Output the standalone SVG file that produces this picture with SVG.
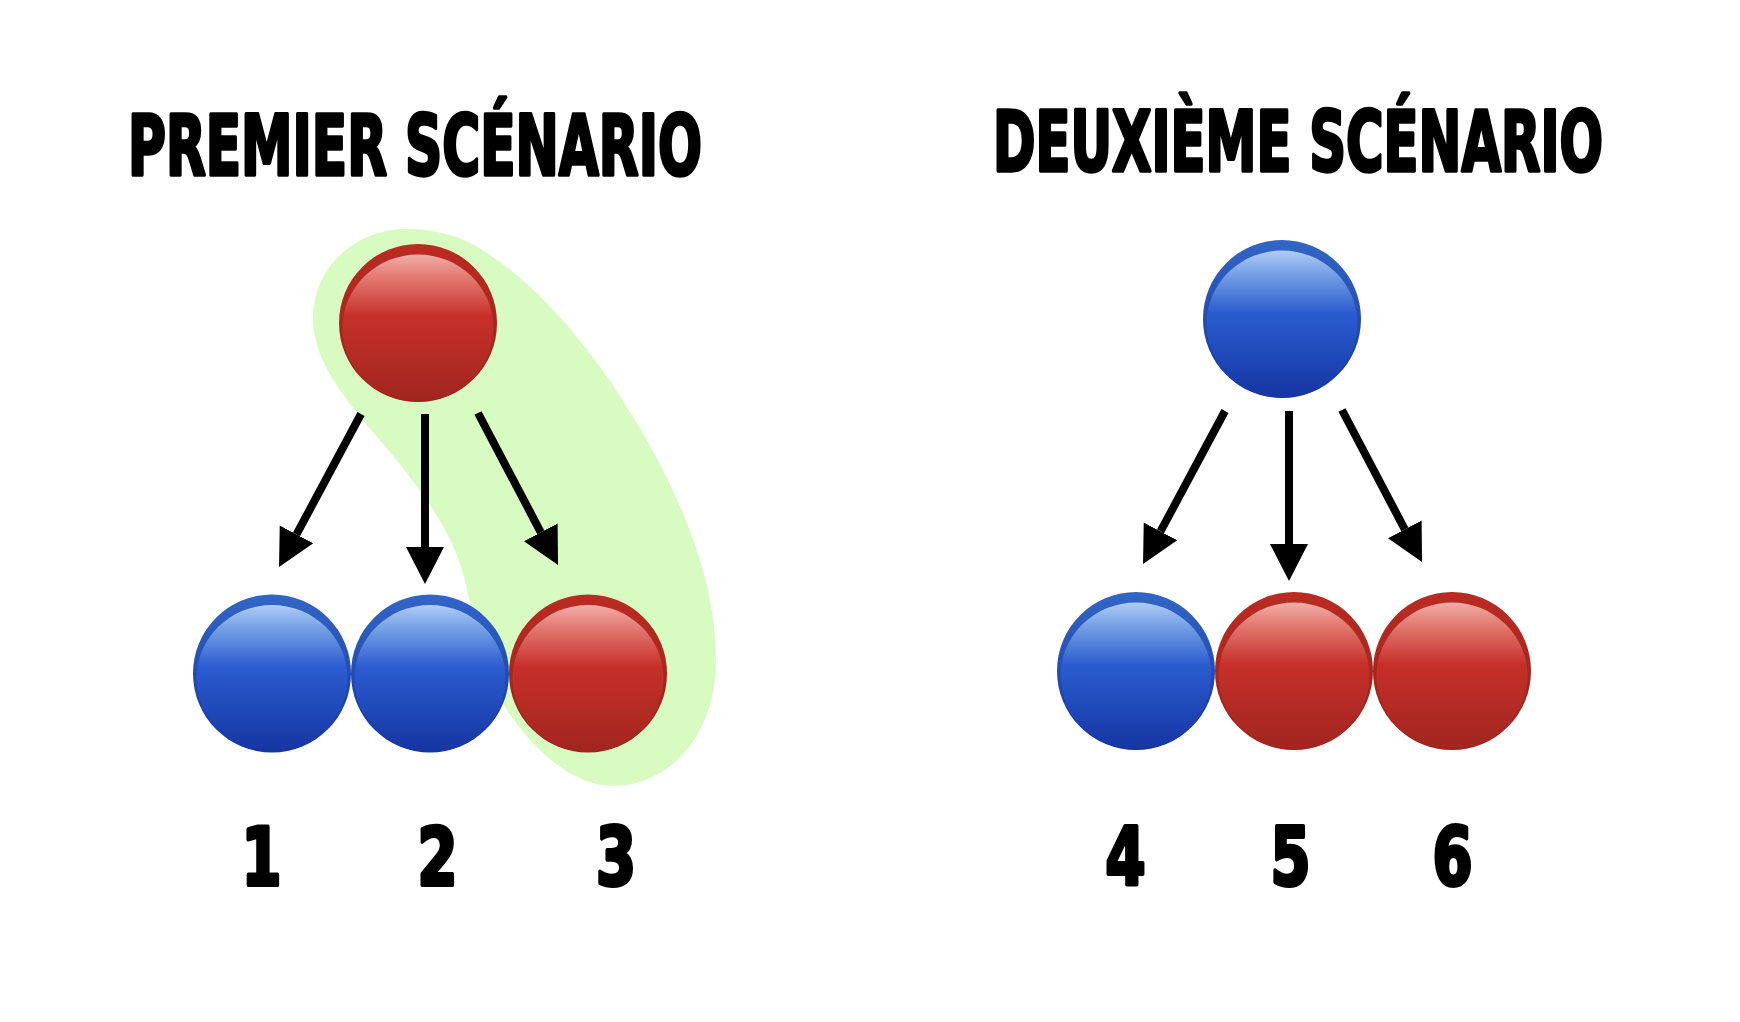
<svg xmlns="http://www.w3.org/2000/svg" width="1740" height="1022" viewBox="0 0 1740 1022">
  <style>
    .title { font-family: "DejaVu Sans Condensed", "DejaVu Sans", sans-serif; font-weight: bold; font-size: 84px; fill: #000; stroke: #000; stroke-width: 3.5; stroke-linejoin: round; }
    .num { font-family: "DejaVu Sans Condensed", "DejaVu Sans", sans-serif; font-weight: bold; font-size: 81px; fill: #000; stroke: #000; stroke-width: 4; stroke-linejoin: round; text-anchor: middle; }
    .conn { stroke: #000; stroke-width: 8; fill: none; marker-end: url(#arrow); }
    .red-o { fill: url(#redOuter); }
    .red-i { fill: url(#redInner); }
    .blue-o { fill: url(#blueOuter); }
    .blue-i { fill: url(#blueInner); }
  </style>
  <defs>
    <marker id="arrow" markerUnits="userSpaceOnUse" viewBox="0 -20 38 40" markerWidth="38" markerHeight="40" refX="0" refY="0" orient="auto">
      <path d="M0,-19 L37,0 L0,19 Z" fill="#000"/>
    </marker>
    <linearGradient id="redOuter" x1="0" y1="0" x2="0" y2="1">
      <stop offset="0" stop-color="#bb2b22"/>
      <stop offset="1" stop-color="#96211b"/>
    </linearGradient>
    <linearGradient id="redInner" x1="0" y1="0" x2="0" y2="1">
      <stop offset="0" stop-color="#f0aea8"/>
      <stop offset="0.15" stop-color="#e37b72"/>
      <stop offset="0.42" stop-color="#c7302a"/>
      <stop offset="1" stop-color="#a1251f"/>
    </linearGradient>
    <linearGradient id="blueOuter" x1="0" y1="0" x2="0" y2="1">
      <stop offset="0" stop-color="#3266c6"/>
      <stop offset="1" stop-color="#15329a"/>
    </linearGradient>
    <linearGradient id="blueInner" x1="0" y1="0" x2="0" y2="1">
      <stop offset="0" stop-color="#b0cdf6"/>
      <stop offset="0.15" stop-color="#78a3e6"/>
      <stop offset="0.42" stop-color="#2b5dd0"/>
      <stop offset="1" stop-color="#1535a2"/>
    </linearGradient>
  </defs>

  <rect width="1740" height="1022" fill="#ffffff"/>

  <path id="highlight" d="M407,229 C355,229 313,268 313,318 C313,365 350,405 390,452 C425,495 450,530 462,570 C475,615 480,680 520,728 C545,760 580,786 612,786 C670,786 716,735 716,660 C716,590 690,520 655,455 C610,370 540,280 470,243 C450,233 428,229 407,229 Z" fill="#d7fbc1"/>

  <text id="title1" class="title" transform="translate(128,175) scale(0.684,1)" x="0" y="0" textLength="839" lengthAdjust="spacingAndGlyphs">PREMIER SCÉNARIO</text>
  <text id="title2" class="title" transform="translate(993,171) scale(0.677,1)" x="0" y="0" textLength="901" lengthAdjust="spacingAndGlyphs">DEUXIÈME SCÉNARIO</text>

  <g id="connectors">
    <path class="conn" d="M361,414 L296.5,534.4"/>
    <path class="conn" d="M425,414 L425,547"/>
    <path class="conn" d="M478,413 L540.8,532.3"/>
    <path class="conn" d="M1225,411 L1160.5,531.4"/>
    <path class="conn" d="M1289,411 L1289,544"/>
    <path class="conn" d="M1342,410 L1404.8,529.3"/>
  </g>

  <g id="s1-top">
    <circle class="red-o" cx="418" cy="323" r="79"/>
    <ellipse class="red-i" cx="418" cy="328" rx="75.5" ry="73.5"/>
  </g>
  <g id="s1-n1">
    <circle class="blue-o" cx="272" cy="673.5" r="79"/>
    <ellipse class="blue-i" cx="272" cy="678.5" rx="75.5" ry="73.5"/>
  </g>
  <g id="s1-n2">
    <circle class="blue-o" cx="430" cy="673.5" r="79"/>
    <ellipse class="blue-i" cx="430" cy="678.5" rx="75.5" ry="73.5"/>
  </g>
  <g id="s1-n3">
    <circle class="red-o" cx="588" cy="673.5" r="79"/>
    <ellipse class="red-i" cx="588" cy="678.5" rx="75.5" ry="73.5"/>
  </g>

  <g id="s2-top">
    <circle class="blue-o" cx="1282" cy="319" r="79"/>
    <ellipse class="blue-i" cx="1282" cy="324" rx="75.5" ry="73.5"/>
  </g>
  <g id="s2-n4">
    <circle class="blue-o" cx="1136" cy="671" r="79"/>
    <ellipse class="blue-i" cx="1136" cy="676" rx="75.5" ry="73.5"/>
  </g>
  <g id="s2-n5">
    <circle class="red-o" cx="1294" cy="671" r="79"/>
    <ellipse class="red-i" cx="1294" cy="676" rx="75.5" ry="73.5"/>
  </g>
  <g id="s2-n6">
    <circle class="red-o" cx="1452" cy="671" r="79"/>
    <ellipse class="red-i" cx="1452" cy="676" rx="75.5" ry="73.5"/>
  </g>

  <g id="labels">
    <text class="num" x="261.5" y="885" textLength="40" lengthAdjust="spacingAndGlyphs">1</text>
    <text class="num" x="437.5" y="885" textLength="40" lengthAdjust="spacingAndGlyphs">2</text>
    <text class="num" x="616" y="885" textLength="40" lengthAdjust="spacingAndGlyphs">3</text>
    <text class="num" x="1125.5" y="885" textLength="40" lengthAdjust="spacingAndGlyphs">4</text>
    <text class="num" x="1290.5" y="885" textLength="40" lengthAdjust="spacingAndGlyphs">5</text>
    <text class="num" x="1452.5" y="885" textLength="40" lengthAdjust="spacingAndGlyphs">6</text>
  </g>
</svg>
